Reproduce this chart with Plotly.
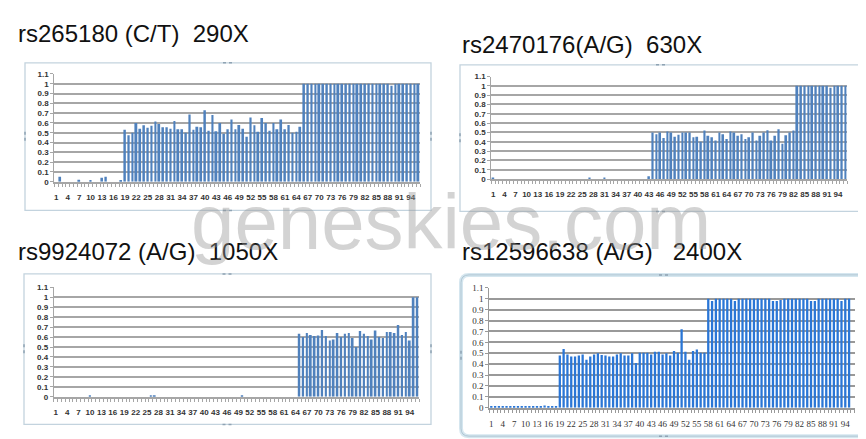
import plotly.graph_objects as go

W, H = 866, 439

categories = list(range(1, 97))
x_tick_labels = ["1", "4", "7", "10", "13", "16", "19", "22", "25", "28", "31", "34",
                 "37", "40", "43", "46", "49", "52", "55", "58", "61", "64", "67", "70",
                 "73", "76", "79", "82", "85", "88", "91", "94"]
y_tick_vals = [0, 0.1, 0.2, 0.3, 0.4, 0.5, 0.6, 0.7, 0.8, 0.9, 1.0, 1.1]
y_tick_text = ["0", "0.1", "0.2", "0.3", "0.4", "0.5", "0.6", "0.7", "0.8", "0.9", "1", "1.1"]

titles = ["rs265180 (C/T)  290X", "rs2470176(A/G)  630X",
          "rs9924072 (A/G)  1050X", "rs12596638 (A/G)   2400X"]

rs265180 = [
    0, 0.05, 0, 0, 0, 0, 0.02, 0, 0, 0.01, 0, 0, 0.04, 0.05, 0, 0, 0, 0.01,
    0.53, 0.475, 0.50, 0.60, 0.54, 0.575, 0.55, 0.57, 0.615, 0.59, 0.555, 0.555,
    0.54, 0.62, 0.535, 0.535, 0.50, 0.685, 0.53, 0.56, 0.555, 0.73, 0.52, 0.68,
    0.515, 0.60, 0.49, 0.535, 0.635, 0.535, 0.58, 0.54, 0.46, 0.655, 0.575, 0.51,
    0.65, 0.60, 0.52, 0.60, 0.535, 0.635, 0.535, 0.58, 0.50, 0.51, 0.56,
    1, 1, 1, 1, 1, 1, 1, 1, 1, 1, 1, 1, 1, 1, 1, 1, 1, 1, 1, 1, 1, 1, 1,
    0.98, 1, 1, 1, 1, 1, 1, 1,
]

rs2470176 = [
    0.01, 0, 0, 0, 0, 0, 0, 0, 0, 0, 0, 0, 0, 0, 0, 0, 0, 0, 0, 0, 0, 0, 0, 0, 0, 0,
    0.01, 0, 0, 0, 0.015, 0, 0, 0, 0, 0, 0, 0, 0, 0, 0, 0, 0.03,
    0.50, 0.48, 0.50, 0.44, 0.51, 0.50, 0.455, 0.475, 0.50, 0.50, 0.50, 0.45, 0.455,
    0.40, 0.52, 0.465, 0.45, 0.415, 0.50, 0.48, 0.43, 0.51, 0.50, 0.465, 0.48, 0.43,
    0.45, 0.50, 0.415, 0.465, 0.50, 0.525, 0.415, 0.465, 0.535, 0.38, 0.47, 0.50, 0.52,
    1, 1, 1, 1, 1, 1, 1, 1, 1, 0.98, 1, 1, 1, 1,
]

rs9924072 = [
    0, 0, 0, 0, 0, 0, 0, 0, 0, 0.01, 0, 0, 0, 0, 0, 0, 0, 0, 0, 0, 0, 0, 0, 0, 0,
    0.01, 0.01, 0, 0, 0, 0, 0, 0, 0, 0, 0, 0, 0, 0, 0, 0, 0, 0, 0, 0, 0, 0, 0, 0,
    0.01, 0, 0, 0, 0, 0, 0, 0, 0, 0, 0, 0, 0, 0, 0,
    0.633, 0.60, 0.64, 0.62, 0.61, 0.615, 0.67, 0.61, 0.565, 0.575, 0.64, 0.60,
    0.633, 0.64, 0.59, 0.50, 0.66, 0.633, 0.61, 0.575, 0.665, 0.60, 0.59, 0.65,
    0.65, 0.64, 0.72, 0.62, 0.65, 0.565, 1.0, 1.0,
]

rs12596638 = [
    0.01, 0.01, 0.01, 0.01, 0.01, 0.01, 0.01, 0.01, 0.01, 0.01, 0.01, 0.01, 0.01,
    0.01, 0.02, 0.01, 0.01, 0.01,
    0.48, 0.54, 0.49, 0.47, 0.47, 0.48, 0.49, 0.44, 0.47, 0.49, 0.50, 0.485, 0.48,
    0.47, 0.47, 0.49, 0.50, 0.48, 0.48, 0.50, 0.41, 0.505, 0.505, 0.505, 0.49, 0.515,
    0.515, 0.49, 0.50, 0.48, 0.52, 0.505, 0.72, 0.515, 0.44, 0.52, 0.535, 0.505, 0.505,
    1, 0.98, 1, 1, 1, 1, 1, 0.98, 1, 1, 1, 1, 1, 1, 1, 1, 1, 0.98, 0.98, 0.99,
    1, 1, 1, 1, 1, 1, 1, 0.98, 0.98, 1, 1, 1, 1, 1, 1, 0.98, 1, 1,
]

series = [rs265180, rs2470176, rs9924072, rs12596638]


def fx(p):
    return p / W


def fy(p):
    return 1 - p / H


# plot areas in pixels: (left, right, top(1.1), bottom(0))
plot_px = [
    (46.4, 412.2, 62.3, 172.7),
    (483.4, 839.3, 65.0, 170.0),
    (45.8, 411.2, 280.7, 392.7),
    (481.4, 846.8, 281.3, 404.0),
]
frames_px = [
    (17, 51, 423, 202),
    (452, 53, 854, 203),
    (16, 267, 423, 421),
    (453, 268, 859, 433),
]
title_pos = [(8, 21), (452, 32), (8, 244), (452, 244)]
bar_colors = ["#4F81BD", "#4F81BD", "#4F81BD", "#2A76D6"]
fonts = ["Liberation Sans", "Liberation Sans", "Liberation Sans", "Liberation Serif"]

fig = go.Figure()
layout = dict(
    width=W, height=H, margin=dict(l=0, r=0, t=0, b=0),
    paper_bgcolor="white", plot_bgcolor="rgba(0,0,0,0)",
    showlegend=False, shapes=[], annotations=[],
)

for i in range(4):
    n = "" if i == 0 else str(i + 1)
    l, r, t, b = plot_px[i]
    fig.add_trace(go.Bar(
        x=categories, y=series[i], xaxis="x" + n, yaxis="y" + n,
        width=0.5 if i < 3 else 0.6,
        marker=dict(color=bar_colors[i], line=dict(width=0)),
        hoverinfo="skip",
    ))
    fam = fonts[i]
    gridc = "#A6A6A6" if i < 3 else "#999999"
    wt = "bold" if i < 3 else "normal"
    layout["xaxis" + n] = dict(
        domain=[fx(l), fx(r)], anchor="y" + n, range=[0.5, 96.5],
        tickmode="array", tickvals=[int(v) for v in x_tick_labels], ticktext=x_tick_labels,
        ticks="", showgrid=False, zeroline=False, tickangle=0,
        showline=True, linecolor=gridc, linewidth=1.5,
        tickfont=dict(family=fam, size=8 if i < 3 else 9, color="#333333", weight=wt),
        ticklabelstandoff=7,
        minor=dict(tickmode="linear", tick0=0.5, dtick=1, ticks="outside",
                   ticklen=3, tickcolor=gridc, tickwidth=1, showgrid=False),
        fixedrange=True,
    )
    layout["yaxis" + n] = dict(
        domain=[fy(b), fy(t)], anchor="x" + n, range=[0, 1.1],
        tickmode="array", tickvals=y_tick_vals, ticktext=y_tick_text,
        ticks="outside", ticklen=3, tickcolor=gridc,
        showgrid=True, gridcolor=gridc, gridwidth=1.5, zeroline=False,
        showline=True, linecolor=gridc, linewidth=1.2,
        tickfont=dict(family=fam, size=8 if i < 3 else 9, color="#333333", weight=wt),
        fixedrange=True,
    )
    fx0, fy0, fx1, fy1 = frames_px[i]
    if i < 3:
        layout["shapes"].append(dict(
            type="rect", xref="paper", yref="paper",
            x0=fx(fx0), x1=fx(fx1), y0=fy(fy1), y1=fy(fy0),
            line=dict(color="#C3D3DE", width=1.3), layer="below"))
    else:
        rr = 8
        pts = (f"M {fx(fx0 + rr)},{fy(fy0)} L {fx(fx1 - rr)},{fy(fy0)} "
               f"Q {fx(fx1)},{fy(fy0)} {fx(fx1)},{fy(fy0 + rr)} "
               f"L {fx(fx1)},{fy(fy1 - rr)} Q {fx(fx1)},{fy(fy1)} {fx(fx1 - rr)},{fy(fy1)} "
               f"L {fx(fx0 + rr)},{fy(fy1)} Q {fx(fx0)},{fy(fy1)} {fx(fx0)},{fy(fy1 - rr)} "
               f"L {fx(fx0)},{fy(fy0 + rr)} Q {fx(fx0)},{fy(fy0)} {fx(fx0 + rr)},{fy(fy0)} Z")
        layout["shapes"].append(dict(type="path", xref="paper", yref="paper", path=pts,
                                     line=dict(color="#D5E6EF", width=4), layer="below"))
        layout["shapes"].append(dict(type="path", xref="paper", yref="paper", path=pts,
                                     line=dict(color="#AFC6D3", width=1), layer="below"))
    # small sizing handles on the frame edges
    cx, cy = (fx0 + fx1) / 2, (fy0 + fy1) / 2
    hc = "#8FA3B3"
    for (ax0, ay0, ax1, ay1) in [(cx - 5, fy0, cx + 5, fy0), (cx - 5, fy1, cx + 5, fy1),
                                 (fx0, cy - 5, fx0, cy + 5), (fx1, cy - 5, fx1, cy + 5)]:
        layout["shapes"].append(dict(
            type="line", xref="paper", yref="paper",
            x0=fx(ax0), y0=fy(ay0), x1=fx(ax1), y1=fy(ay1),
            line=dict(color=hc, width=1.5, dash="dot"), layer="below"))
    tx, ty = title_pos[i]
    layout["annotations"].append(dict(
        text=titles[i].replace(" ", "\u00a0"), xref="paper", yref="paper",
        x=fx(tx), y=fy(ty), xanchor="left", yanchor="middle", showarrow=False,
        font=dict(family="Liberation Sans", size=24, color="#111111")))

layout["annotations"].append(dict(
    text="geneskies.com", xref="paper", yref="paper", x=fx(443), y=fy(214),
    xanchor="center", yanchor="middle", showarrow=False,
    font=dict(family="Liberation Sans", size=78, color="rgba(150,150,150,0.42)")))

fig.update_layout(**layout)
fig.write_html("out.html")
